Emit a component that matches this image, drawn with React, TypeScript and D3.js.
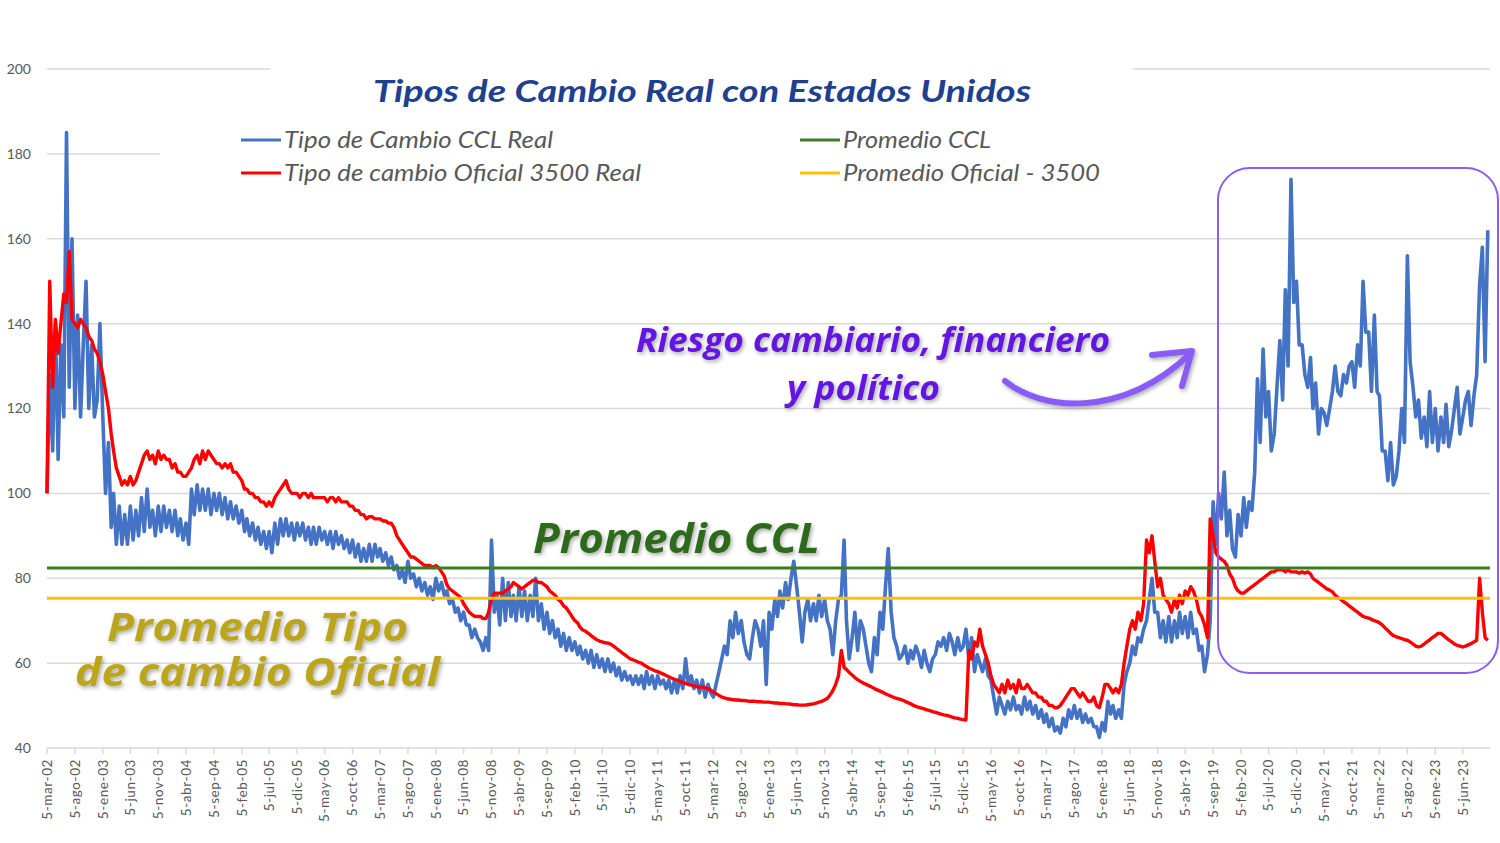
import React from 'react';
import * as d3 from 'd3';

const W = 1500;
const H = 843;

// eje Y
const yTicks = [40, 60, 80, 100, 120, 140, 160, 180, 200];

// etiquetas del eje X (cada 5 meses)
const xTickLabels = [
  '5-mar-02', '5-ago-02', '5-ene-03', '5-jun-03', '5-nov-03', '5-abr-04', '5-sep-04', '5-feb-05',
  '5-jul-05', '5-dic-05', '5-may-06', '5-oct-06', '5-mar-07', '5-ago-07', '5-ene-08', '5-jun-08',
  '5-nov-08', '5-abr-09', '5-sep-09', '5-feb-10', '5-jul-10', '5-dic-10', '5-may-11', '5-oct-11',
  '5-mar-12', '5-ago-12', '5-ene-13', '5-jun-13', '5-nov-13', '5-abr-14', '5-sep-14', '5-feb-15',
  '5-jul-15', '5-dic-15', '5-may-16', '5-oct-16', '5-mar-17', '5-ago-17', '5-ene-18', '5-jun-18',
  '5-nov-18', '5-abr-19', '5-sep-19', '5-feb-20', '5-jul-20', '5-dic-20', '5-may-21', '5-oct-21',
  '5-mar-22', '5-ago-22', '5-ene-23', '5-jun-23',
];

const mesesEs = ['ene', 'feb', 'mar', 'abr', 'may', 'jun', 'jul', 'ago', 'sep', 'oct', 'nov', 'dic'];

// dos lecturas por mes (dia 5 y dia 20), desde mar-2002 hasta oct-2023
const cclReal: [number, number][] = [
  // 2002
  [100, 128], [110, 140], [108, 135], [118, 185], [125, 160], [120, 142], [118, 135], [150, 120], [135, 118], [122, 140],
  // 2003
  [118, 100], [112, 92], [100, 88], [97, 88], [95, 88], [97, 89], [96, 90], [99, 91], [101, 92], [96, 90], [97, 91], [97, 92],
  // 2004
  [96, 91], [96, 90], [94, 89], [93, 88], [101, 95], [102, 96], [101, 96], [101, 95], [100, 96], [100, 95], [99, 94], [98, 94],
  // 2005
  [97, 93], [96, 91], [94, 90], [93, 89], [92, 88], [91, 87], [91, 86], [93, 88], [94, 90], [94, 90], [93, 89], [93, 90],
  // 2006
  [93, 89], [92, 88], [92, 88], [92, 89], [91, 88], [91, 87], [91, 88], [90, 87], [89, 86], [89, 85], [88, 84], [87, 84],
  // 2007
  [88, 84], [88, 85], [87, 84], [86, 83], [85, 82], [83, 80], [82, 79], [84, 80], [81, 78], [80, 77], [79, 76], [78, 75],
  // 2008
  [80, 77], [79, 76], [77, 74], [75, 72], [73, 70], [72, 69], [69, 66], [68, 66], [65, 63], [66, 63], [89, 72], [76, 69],
  // 2009
  [80, 70], [79, 71], [76, 70], [78, 71], [77, 70], [76, 71], [80, 70], [74, 68], [72, 67], [70, 66], [68, 64], [67, 63],
  // 2010
  [66, 63], [65, 62], [64, 61], [63, 60], [63, 59], [62, 59], [61, 58], [61, 58], [60, 57], [59, 56], [58, 56], [57, 55],
  // 2011
  [57, 55], [57, 54], [58, 55], [57, 54], [57, 55], [56, 54], [56, 53], [56, 53], [57, 54], [61, 55], [57, 54], [56, 53],
  // 2012
  [56, 52], [55, 53], [52, 55], [58, 61], [64, 62], [70, 66], [72, 67], [70, 65], [62, 61], [66, 70], [68, 64], [70, 55],
  // 2013
  [72, 68], [75, 71], [77, 73], [79, 75], [80, 84], [78, 72], [65, 72], [75, 70], [74, 70], [76, 71], [75, 70], [68, 62],
  // 2014
  [70, 75], [76, 89], [70, 61], [66, 72], [63, 70], [68, 64], [60, 58], [66, 62], [72, 68], [78, 87], [72, 66], [64, 61],
  // 2015
  [62, 64], [60, 63], [61, 64], [62, 59], [63, 60], [58, 61], [62, 65], [64, 66], [63, 67], [65, 62], [66, 63], [64, 68],
  // 2016
  [61, 66], [58, 62], [60, 58], [61, 57], [56, 52], [48, 52], [50, 48], [51, 49], [52, 49], [50, 48], [52, 49], [51, 48],
  // 2017
  [50, 47], [49, 46], [48, 45], [47, 44], [45, 43.5], [47, 45], [49, 47], [50, 47], [49, 46], [48, 46], [47, 45], [45, 42.5],
  // 2018
  [46, 44], [51, 48], [50, 47], [49, 47], [55, 58], [60, 64], [62, 66], [65, 68], [70, 75], [80, 72], [72, 66], [70, 65],
  // 2019
  [71, 65], [70, 66], [72, 67], [71, 66], [72, 67], [68, 63], [64, 58], [62, 70], [98, 88], [100, 94], [105, 90], [96, 87],
  // 2020
  [85, 95], [90, 99], [92, 98], [96, 105], [127, 112], [134, 118], [124, 110], [114, 125], [136, 122], [148, 130], [174, 145], [150, 135],
  // 2021
  [135, 128], [125, 132], [120, 126], [114, 120], [119, 116], [120, 124], [130, 124], [123, 128], [126, 130], [131, 125], [135, 130], [150, 138],
  // 2022
  [138, 124], [142, 124], [123, 110], [110, 103], [112, 102], [104, 110], [120, 112], [156, 131], [125, 118], [122, 113], [118, 111], [124, 112],
  // 2023
  [120, 110], [118, 112], [121, 111], [115, 120], [125, 114], [118, 122], [124, 116], [123, 128], [149, 158], [131, 162],
];

const oficialReal: [number, number][] = [
  // 2002
  [100, 150], [125, 141], [133, 140], [147, 145], [157, 141], [140, 139], [141, 140], [139, 137], [136, 134], [133, 131],
  // 2003
  [128, 124], [120, 114], [110, 106], [104, 102], [103, 102], [104, 102], [103, 105], [107, 109], [110, 108], [109, 107], [110, 108], [109, 108],
  // 2004
  [108, 106], [107, 105], [105, 104], [104, 105], [106, 108], [109, 107], [110, 108], [110, 109], [108, 107], [107, 106], [107, 106], [107, 105],
  // 2005
  [105, 104], [103, 101], [101, 100], [100, 99], [99, 98], [98, 97], [98, 97], [99, 100], [101, 102], [103, 101], [100, 100], [100, 99],
  // 2006
  [100, 100], [99, 100], [99, 99], [99, 99], [99, 98], [99, 99], [98, 99], [98, 98], [98, 97], [97, 96], [96, 95], [95, 94],
  // 2007
  [94.5, 94.5], [94, 94], [94, 93.5], [93.5, 93], [93, 92], [90, 89], [88, 87], [86, 85], [85, 84.5], [84, 83.5], [83, 83], [83, 82.5],
  // 2008
  [83, 82.5], [81.5, 80.5], [78.5, 77.5], [77, 76.5], [76, 75.5], [74, 73], [72, 71.5], [71, 71], [71, 70.5], [70.5, 72], [75, 76.5], [76.5, 76.5],
  // 2009
  [76.5, 77], [77.5, 78], [79, 78.5], [78, 77.5], [78, 78.5], [79, 79.5], [79.5, 79], [79, 78.5], [78, 77], [76.5, 76], [75, 74.5], [73.5, 73],
  // 2010
  [72, 71], [70, 69.5], [68.5, 67.8], [67.5, 67], [66.5, 66], [65.5, 65.2], [65, 64.8], [64.7, 64.5], [64, 63.5], [63, 62.5], [62, 61.5], [61, 60.8],
  // 2011
  [60.5, 60.2], [60, 59.5], [59.2, 58.8], [58.5, 58.2], [58, 57.7], [57.4, 57.1], [56.8, 56.5], [56.2, 56], [55.7, 55.4], [55.2, 55], [54.8, 54.6], [54.5, 54.3],
  // 2012
  [54.4, 54.2], [54, 53.6], [53.2, 52.8], [52.4, 52], [51.8, 51.6], [51.5, 51.4], [51.3, 51.3], [51.2, 51.2], [51.1, 51], [51, 51], [50.9, 50.9], [50.8, 50.8],
  // 2013
  [50.8, 50.7], [50.6, 50.6], [50.5, 50.5], [50.4, 50.4], [50.3, 50.2], [50.2, 50.1], [50.1, 50.1], [50.2, 50.3], [50.4, 50.6], [50.8, 51], [51.3, 51.7], [52.5, 53.5],
  // 2014
  [55, 57], [63, 59], [58.5, 57.8], [57.2, 56.6], [56.1, 55.7], [55.3, 55], [54.7, 54.4], [54, 53.7], [53.4, 53.1], [52.8, 52.5], [52.2, 51.9], [51.7, 51.5],
  // 2015
  [51.3, 51], [50.7, 50.4], [50.1, 49.8], [49.6, 49.4], [49.2, 49], [48.8, 48.6], [48.4, 48.2], [48, 47.8], [47.7, 47.5], [47.3, 47.1], [47, 46.8], [46.7, 46.6],
  // 2016
  [63, 61], [65, 64], [68, 64], [62, 60], [57, 55], [54, 53], [55, 53], [56, 54], [55, 53], [56, 54], [54, 55], [54, 53],
  // 2017
  [53, 52], [52, 51], [51, 50], [50, 49.5], [49.5, 50], [51, 52], [53, 54], [54, 53], [52, 53], [52, 51], [51, 52], [50, 49.5],
  // 2018
  [52, 55], [55, 54], [53, 54], [53, 55], [60, 64], [68, 70], [68, 72], [70, 74], [89, 86], [90, 84], [78, 80], [76, 75],
  // 2019
  [74, 72], [75, 73], [76, 74], [77, 76], [78, 77], [75, 72], [71, 69], [66, 94], [90, 86], [85, 84.5], [84, 83], [81, 80],
  // 2020
  [78, 77], [76.5, 76.5], [77, 77.5], [78, 78.5], [79, 79.5], [80, 80.5], [81, 81.5], [81.5, 82], [82, 82], [81.5, 82], [81.5, 81.5], [81.5, 81.2],
  // 2021
  [81.5, 81.2], [81.5, 81], [80, 79.5], [79, 78.5], [78, 77.5], [77.2, 76.8], [76, 75.5], [75, 74.5], [74, 73.5], [73, 72.5], [72, 71.5], [71, 70.8],
  // 2022
  [70.6, 70.3], [70, 69.8], [69.5, 69], [68.3, 67.7], [67, 66.5], [66.2, 66], [65.8, 65.5], [65.4, 65], [64.5, 64], [63.8, 64], [64.5, 65], [65.5, 66],
  // 2023
  [66.5, 67], [67, 66.5], [66, 65.5], [65, 64.5], [64.2, 64], [63.8, 64], [64.3, 64.6], [65, 65.4], [80, 72], [66, 65.4],
];

const promedioCCL = 82.4;
const promedioOficial = 75.3;

const legendItems = [
  { label: 'Tipo de Cambio CCL Real', color: '#4472c4', x: 241, y: 140, w: 269 },
  { label: 'Tipo de cambio Oficial 3500 Real', color: '#ff0000', x: 241, y: 173, w: 357 },
  { label: 'Promedio CCL', color: '#3b7d23', x: 800, y: 140, w: 148 },
  { label: 'Promedio Oficial - 3500', color: '#ffc000', x: 800, y: 173, w: 257 },
];

const parseLabel = (s: string) => {
  const [d, m, y] = s.split('-');
  return new Date(2000 + +y, mesesEs.indexOf(m), +d);
};

// cada mes da dos puntos: dia 5 y dia 20
const toPoints = (pairs: [number, number][]) =>
  pairs.flatMap(([a, b], i) => [
    [new Date(2002, 2 + i, 5), a] as [Date, number],
    [new Date(2002, 2 + i, 20), b] as [Date, number],
  ]);

export default function App() {
  const x = d3.scaleTime()
    .domain([new Date(2002, 2, 5), new Date(2023, 10, 1)])
    .range([47, 1490]);
  const y = d3.scaleLinear().domain([40, 200]).range([748, 69]);

  const line = d3.line<[Date, number]>()
    .x(d => x(d[0]))
    .y(d => y(d[1]));

  const cclPts = toPoints(cclReal);
  const ofPts = toPoints(oficialReal);
  const [x0, x1] = x.domain();
  const avgLine = (v: number) => line([[x0, v], [x1, v]]) as string;

  const tickDates = xTickLabels.map(parseLabel);
  const annot = { fontFamily: '"Open Sans", sans-serif', fontStyle: 'italic', fontWeight: 700 } as const;

  return (
    <svg width={W} height={H} style={{ position: 'absolute', left: 0, top: 0, background: '#fff' }}>
      <defs>
        <filter id="sombra" x="-10%" y="-40%" width="120%" height="180%">
          <feDropShadow dx="1.5" dy="2" stdDeviation="2" floodColor="#000" floodOpacity="0.35" />
        </filter>
      </defs>
      <rect width={W} height={H} fill="#fff" />

      {/* grilla */}
      {yTicks.map(t => (
        <g key={t}>
          <line x1={47} x2={1490} y1={y(t)} y2={y(t)} stroke="#d9d9d9" strokeWidth={1.5} />
          <text x={31} y={y(t)} dy="0.35em" textAnchor="end" fontSize={14}
            fontFamily="Lato, sans-serif" fill="#595959">{t}</text>
        </g>
      ))}

      {/* eje X */}
      {tickDates.map((d, i) => (
        <g key={i} transform={`translate(${x(d)},0)`}>
          <line y1={748} y2={754} stroke="#d9d9d9" strokeWidth={1.5} />
          <text transform="translate(0,759) rotate(-90)" dy="0.35em" textAnchor="end"
            fontSize={13.5} letterSpacing={0.6} fontFamily="Lato, sans-serif" fill="#595959">
            {xTickLabels[i]}
          </text>
        </g>
      ))}

      {/* fondos del titulo y la leyenda */}
      <rect x={270} y={55} width={863} height={60} fill="#fff" />
      <rect x={160} y={120} width={1340} height={70} fill="#fff" />

      {/* series */}
      <path d={line(cclPts) as string} fill="none" stroke="#4472c4" strokeWidth={3.6} strokeLinejoin="round" />
      <path d={line(ofPts) as string} fill="none" stroke="#ff0000" strokeWidth={3.4} strokeLinejoin="round" />
      <path d={avgLine(promedioCCL)} stroke="#3b7d23" strokeWidth={3} />
      <path d={avgLine(promedioOficial)} stroke="#ffc000" strokeWidth={3} />

      {/* titulo */}
      <text x={702} y={102} textAnchor="middle" fontSize={31} fontFamily="Lato, sans-serif"
        fontStyle="italic" fontWeight={700} fill="#1f3f8f" textLength={658} lengthAdjust="spacingAndGlyphs">
        Tipos de Cambio Real con Estados Unidos
      </text>

      {/* leyenda */}
      {legendItems.map(it => (
        <g key={it.label}>
          <line x1={it.x} x2={it.x + 40} y1={it.y} y2={it.y} stroke={it.color} strokeWidth={3} />
          <text x={it.x + 43} y={it.y + 8} fontSize={24} fontFamily="Lato, sans-serif" fontStyle="italic"
            fill="#595959" textLength={it.w} lengthAdjust="spacingAndGlyphs">{it.label}</text>
        </g>
      ))}

      {/* recuadro y anotaciones */}
      <rect x={1218} y={168} width={280} height={505} rx={32} fill="none" stroke="#8a5cf0" strokeWidth={2} />

      <g filter="url(#sombra)">
        <text x={636} y={352} fontSize={34} {...annot} fill="#6418e0" textLength={474} lengthAdjust="spacingAndGlyphs">
          Riesgo cambiario, financiero
        </text>
        <text x={787} y={400} fontSize={34} {...annot} fill="#6418e0" textLength={153} lengthAdjust="spacingAndGlyphs">
          y político
        </text>
        <text x={533} y={553} fontSize={42} {...annot} fill="#2d6a1b" textLength={287} lengthAdjust="spacingAndGlyphs">
          Promedio CCL
        </text>
        <text x={107} y={641} fontSize={40} {...annot} fill="#bba51c" textLength={301} lengthAdjust="spacingAndGlyphs">
          Promedio Tipo
        </text>
        <text x={75} y={686} fontSize={40} {...annot} fill="#bba51c" textLength={365} lengthAdjust="spacingAndGlyphs">
          de cambio Oficial
        </text>
        <path d="M1005,381 C1040,410 1120,420 1190,354" fill="none" stroke="#8a5cf6" strokeWidth={6} strokeLinecap="round" />
        <path d="M1152,355 L1192,351 L1182,386" fill="none" stroke="#8a5cf6" strokeWidth={6}
          strokeLinecap="round" strokeLinejoin="round" />
      </g>
    </svg>
  );
}
